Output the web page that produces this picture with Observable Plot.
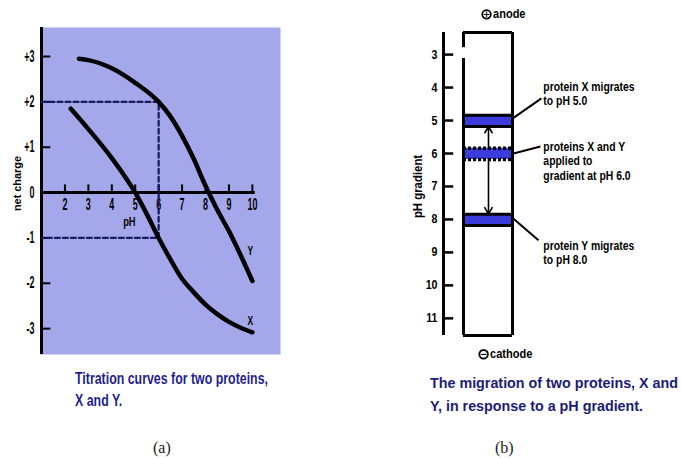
<!DOCTYPE html>
<html><head><meta charset="utf-8">
<script src="https://cdn.jsdelivr.net/npm/d3@7"></script>
<script src="https://cdn.jsdelivr.net/npm/@observablehq/plot@0.6"></script>
<style>
body{margin:0;background:#fff;}
#wrap{position:relative;width:681px;height:459px;overflow:hidden;background:#fff;}
.panel{position:absolute;top:0;}
.cap{position:absolute;display:inline-block;font-family:"Liberation Sans",Arial,sans-serif;font-weight:bold;white-space:nowrap;transform-origin:0 0;}
.lab{position:absolute;font-family:"Liberation Serif","DejaVu Serif",serif;font-size:16px;line-height:20px;color:#222;}
</style></head><body>
<div id="wrap">
  <div id="pa" class="panel" style="left:0"></div>
  <div id="pb" class="panel" style="left:380px"></div>
  <div class="cap" id="capA" data-w="193" style="left:75px;top:368px;font-size:17px;line-height:22px;color:#1f1f90;">Titration curves for two proteins,<br>X and Y.</div>
  <div class="cap" id="capB" data-w="248" style="left:430px;top:371px;font-size:15.5px;line-height:23px;color:#1b1b7a;">The migration of two proteins, X and<br>Y, in response to a pH gradient.</div>
  <div class="lab" style="left:153px;top:438px;">(a)</div>
  <div class="lab" style="left:495px;top:438px;">(b)</div>
</div>
<script>
// ---------- data: panel (a) titration curves ----------
const phTicks = [2, 3, 4, 5, 6, 7, 8, 9, 10];
const chargeTicks = [3, 2, 1, 0, -1, -2, -3];
const chargeLabels = ["+3", "+2", "+1", "0", "-1", "-2", "-3"];
const proteinY = [
  {pH: 2.6, charge: 2.95}, {pH: 3, charge: 2.92}, {pH: 4, charge: 2.74}, {pH: 5, charge: 2.42},
  {pH: 6, charge: 2.0}, {pH: 6.5, charge: 1.68}, {pH: 7, charge: 1.25}, {pH: 7.5, charge: 0.74},
  {pH: 8, charge: 0.15}, {pH: 8.5, charge: -0.38}, {pH: 9, charge: -0.85}, {pH: 9.5, charge: -1.38},
  {pH: 10, charge: -1.95}
];
const proteinX = [
  {pH: 2.25, charge: 1.85}, {pH: 3, charge: 1.4}, {pH: 4, charge: 0.76}, {pH: 4.5, charge: 0.4},
  {pH: 5, charge: 0.0}, {pH: 5.5, charge: -0.48}, {pH: 6, charge: -1.0}, {pH: 6.5, charge: -1.47},
  {pH: 7, charge: -1.9}, {pH: 7.5, charge: -2.2}, {pH: 8, charge: -2.47}, {pH: 8.5, charge: -2.68},
  {pH: 9, charge: -2.85}, {pH: 9.5, charge: -2.98}, {pH: 10, charge: -3.08}
];
const appliedPH = 6;

// ---------- data: panel (b) pH gradient ----------
const gradTicks = [3, 4, 5, 6, 7, 8, 9, 10, 11];
const bandPH = [5, 6, 8];            // X migrates to 5, applied at 6, Y migrates to 8
const bandKind = ["end", "start", "end"];
const noteLabels = ["protein X migrates\nto pH 5.0", "proteins X and Y\napplied to\ngradient at pH 6.0", "protein Y migrates\nto pH 8.0"];

const fontS = "'Liberation Sans',Arial,sans-serif";

// horizontally condense svg texts around their anchor (mimics a condensed typeface)
function condense(svg, factorOf) {
  d3.select(svg).selectAll("text").each(function () {
    const s = factorOf(this.textContent);
    if (s === 1) return;
    const t = this.getAttribute("transform") || "";
    this.setAttribute("transform", `${t} scale(${s},1)`.trim());
  });
}

// ---------- panel (a) ----------
const yAt6 = proteinY.find(d => d.pH === appliedPH).charge;
const xAt6 = proteinX.find(d => d.pH === appliedPH).charge;
const guide = [
  {pH: 1, charge: yAt6}, {pH: appliedPH, charge: yAt6},
  {pH: appliedPH, charge: xAt6}, {pH: 1, charge: xAt6}
];
const plotA = Plot.plot({
  width: 285, height: 360,
  marginLeft: 40, marginRight: 5, marginTop: 27, marginBottom: 6,
  x: {domain: [0.957, 11.2], axis: null},
  y: {domain: [-3.57, 3.64], axis: null},
  style: {fontFamily: fontS, fontWeight: "bold", fontSize: "16px", background: "transparent", color: "#000"},
  marks: [
    Plot.frame({fill: "#a4a8ea", stroke: "none"}),
    Plot.ruleX([1], {strokeWidth: 3}),
    Plot.ruleY([0], {x1: 1, x2: 10.12, strokeWidth: 3}),
    Plot.ruleX(phTicks, {x: d => d, y1: 0, y2: 0.17, strokeWidth: 2}),
    Plot.text(phTicks, {x: d => d, y: 0, dy: 12, text: d => String(d)}),
    Plot.ruleY(chargeTicks, {y: d => d, x1: 1, x2: 1.4, strokeWidth: 2}),
    Plot.text(chargeTicks, {x: 1, y: d => d, dx: -7, textAnchor: "end", text: (d, i) => chargeLabels[i]}),
    Plot.text(["pH"], {x: 4.75, y: 0, dy: 30, text: d => d, fontSize: 12}),
    Plot.text(["net charge"], {x: -0.02, y: 0.2, rotate: -90, text: d => d, fontSize: 11.5}),
    Plot.line(guide, {x: "pH", y: "charge", stroke: "#1a1a5e", strokeWidth: 2.2, strokeDasharray: "5,3"}),
    Plot.line(proteinY, {x: "pH", y: "charge", curve: "monotone-x", stroke: "#000", strokeWidth: 4.5}),
    Plot.line(proteinX, {x: "pH", y: "charge", curve: "monotone-x", stroke: "#000", strokeWidth: 4.5}),
    Plot.text([{t: "Y", pH: 10, c: -1.28}, {t: "X", pH: 10, c: -2.83}], {x: "pH", y: "c", dx: -2, text: "t", fontSize: 13})
  ]
});
condense(plotA, t => t === "net charge" ? 0.95 : t === "pH" ? 0.78 : (t === "X" || t === "Y") ? 0.65 : 0.56);
document.getElementById("pa").appendChild(plotA);

// ---------- panel (b) ----------
const axX = -0.408, colTop = 2.33, colBot = 11.52;
const bands = bandPH.map((p, i) => ({pH: p, kind: bandKind[i], top: p - 0.16, bot: p + 0.18}));
const notes = [
  {label: noteLabels[0], ty: bandPH[0] - 0.82, lx: 1.59, ly: bandPH[0] - 0.67, bx: 1.02, by: bandPH[0] - 0.08},
  {label: noteLabels[1], ty: bandPH[1] + 0.21, lx: 1.57, ly: bandPH[1] - 0.21, bx: 1.02, by: bandPH[1]},
  {label: noteLabels[2], ty: bandPH[2] + 1.0, lx: 1.53, ly: bandPH[2] + 0.63, bx: 1.02, by: bandPH[2] - 0.02}
];
const plotB = Plot.plot({
  width: 301, height: 370,
  marginLeft: 83, marginRight: 169, marginTop: 32, marginBottom: 35,
  x: {domain: [0, 1], axis: null},
  y: {domain: [colTop, colBot], reverse: true, axis: null},
  style: {fontFamily: fontS, fontWeight: "bold", fontSize: "12.5px", background: "transparent", color: "#000"},
  marks: [
    Plot.ruleX([axX], {strokeWidth: 3}),
    Plot.ruleY(gradTicks, {y: d => d, x1: axX, x2: -0.2, strokeWidth: 2.5}),
    Plot.text(gradTicks, {x: axX, y: d => d, dx: -6, textAnchor: "end", text: d => String(d)}),
    Plot.text(["pH gradient"], {x: -0.92, y: 7, rotate: -90, text: d => d, fontSize: 12}),
    // bands
    Plot.rect(bands, {x1: 0, x2: 1, y1: "top", y2: "bot", fill: "#3c3cdc"}),
    Plot.ruleY(bands.filter(d => d.kind === "end"), {y: "top", x1: 0, x2: 1, strokeWidth: 3}),
    Plot.ruleY(bands.filter(d => d.kind === "end"), {y: "bot", x1: 0, x2: 1, strokeWidth: 3}),
    Plot.ruleY(bands.filter(d => d.kind === "start"), {y: "top", x1: 0, x2: 1, strokeWidth: 3.5, strokeDasharray: "3,2"}),
    Plot.ruleY(bands.filter(d => d.kind === "start"), {y: "bot", x1: 0, x2: 1, strokeWidth: 3.5, strokeDasharray: "3,2"}),
    // column
    Plot.ruleY([colTop, colBot], {x1: 0, x2: 1, strokeWidth: 3}),
    Plot.ruleX([1], {strokeWidth: 3}),
    Plot.ruleX([{a: colTop, b: 2.79}, {a: 3.12, b: colBot}], {x: 0, y1: "a", y2: "b", strokeWidth: 3}),
    // migration arrows
    Plot.arrow([{a: bands[1].top, b: bands[0].bot}, {a: bands[1].bot, b: bands[2].top}],
      {x1: 0.51, x2: 0.51, y1: "a", y2: "b", strokeWidth: 1.6, headLength: 7, bend: 0}),
    // leader lines and notes
    Plot.link(notes, {x1: "lx", y1: "ly", x2: "bx", y2: "by", strokeWidth: 2}),
    Plot.text(notes, {x: 1.63, y: "ty", text: "label", textAnchor: "start", lineAnchor: "middle", lineHeight: 1.12, fontSize: 13}),
    // electrodes
    Plot.dot([{x: 0.47, y: 1.78}, {x: 0.41, y: 12.09}], {x: "x", y: "y", r: 4.3, stroke: "#000", strokeWidth: 1.8, fill: "#fff"}),
    Plot.text([{x: 0.47, y: 1.78, t: "+"}, {x: 0.41, y: 12.09, t: "−"}], {x: "x", y: "y", text: "t", fontSize: 9, fontFamily: "DejaVu Sans"}),
    Plot.text([{x: 0.47, y: 1.78, t: "anode"}, {x: 0.41, y: 12.09, t: "cathode"}], {x: "x", y: "y", dx: 6.5, text: "t", textAnchor: "start", fontSize: 12})
  ]
});
condense(plotB, t => /protein|applied|gradient at|to pH/.test(t) ? 0.8 : t === "pH gradient" ? 0.95 : (t === "+" || t === "−") ? 1 : t === "anode" || t === "cathode" ? 0.92 : 0.85);
document.getElementById("pb").appendChild(plotB);

// condensed captions: fit the first line to the reference width
for (const id of ["capA", "capB"]) {
  const el = document.getElementById(id);
  const w = el.getBoundingClientRect().width;
  el.style.transform = `scaleX(${(+el.dataset.w) / w})`;
}
</script>
</body></html>
